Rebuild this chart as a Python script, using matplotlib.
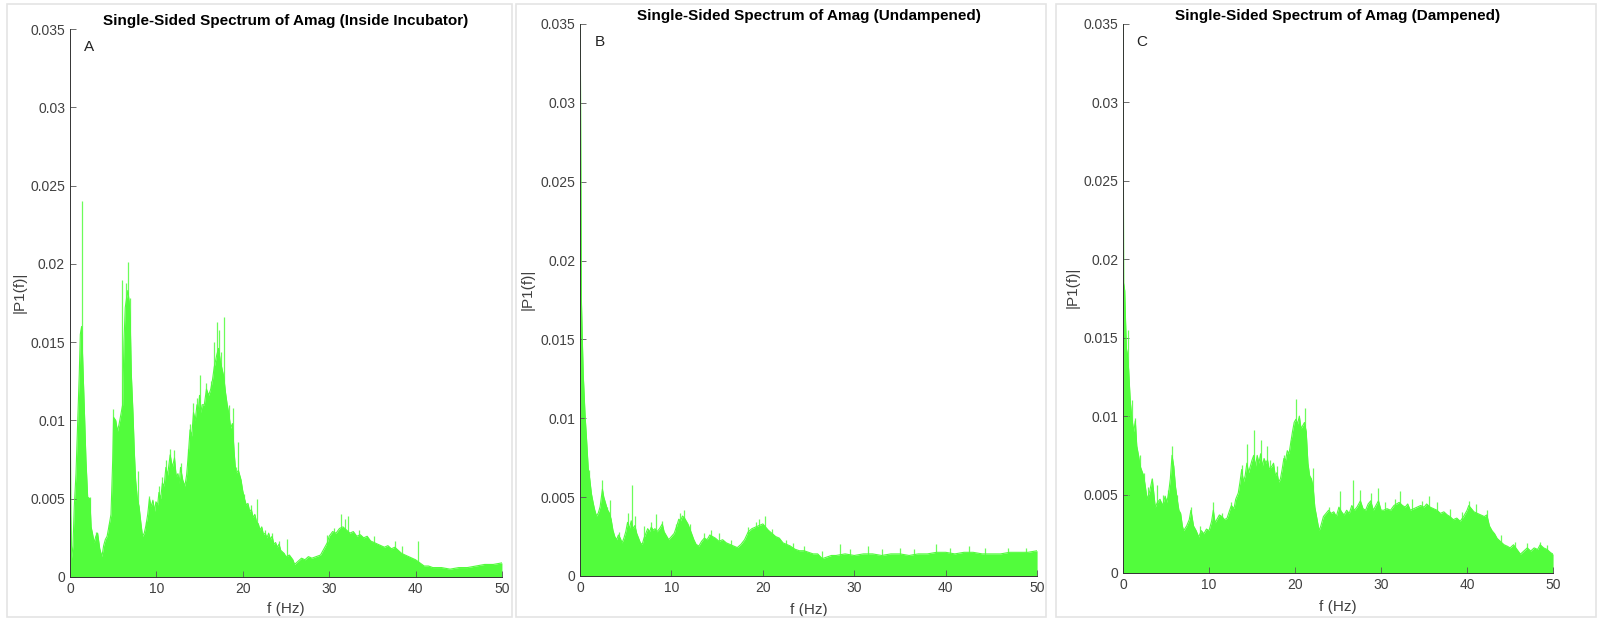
import matplotlib
matplotlib.use("Agg")
import matplotlib.pyplot as plt
from matplotlib.patches import Rectangle

plt.rcParams['font.family'] = ['Liberation Sans', 'DejaVu Sans']

# panel A - inside incubator (upper outline of the spectrum)
freq_a = [0.0, 0.1, 0.2, 0.35, 0.5, 0.7, 0.9, 1.08, 1.2, 1.35, 1.5, 1.66, 1.85, 2.05, 2.3, 2.45,
          2.6, 2.8, 3.0, 3.2, 3.45, 3.7, 3.9, 4.1, 4.3, 4.5, 4.75, 4.95, 5.05, 5.3, 5.5, 5.7, 5.9,
          6.1, 6.25, 6.4, 6.55, 6.7, 6.85, 6.97, 7.1, 7.3, 7.45, 7.6, 7.8, 8.0, 8.2, 8.4, 8.6, 8.8,
          9.0, 9.2, 9.4, 9.6, 9.8, 9.95, 10.15, 10.3, 10.5, 10.7, 10.9, 11.1, 11.3, 11.6, 11.85,
          12.1, 12.3, 12.5, 12.65, 12.8, 13.05, 13.3, 13.5, 13.7, 13.9, 14.1, 14.3, 14.5, 14.7,
          14.85, 15.0, 15.15, 15.3, 15.55, 15.8, 16.05, 16.3, 16.5, 16.7, 16.85, 17.0, 17.2, 17.4,
          17.6, 17.8, 18.0, 18.2, 18.4, 18.6, 18.8, 19.0, 19.2, 19.5, 19.8, 20.0, 20.2, 20.4, 20.6,
          20.8, 21.0, 21.2, 21.4, 21.6, 21.8, 22.0, 22.2, 22.4, 22.6, 22.8, 23.0, 23.2, 23.4, 23.6,
          23.8, 24.0, 24.2, 24.4, 24.6, 24.8, 25.0, 25.4, 25.8, 26.0, 26.4, 26.8, 27.2, 27.6, 28.0,
          28.5, 29.0, 29.4, 29.8, 30.0, 30.4, 30.8, 31.2, 31.6, 32.0, 32.4, 32.8, 33.2, 33.6, 34.0,
          34.4, 34.8, 35.2, 35.6, 36.0, 36.4, 36.8, 37.2, 37.6, 38.0, 38.4, 38.8, 39.2, 39.6, 40.0,
          40.5, 41.0, 41.5, 42.0, 43.0, 44.0, 45.0, 46.0, 47.0, 48.0, 49.0, 50.0]
amp_a = [0.0145, 0.004, 0.0012, 0.002, 0.0045, 0.0066, 0.010, 0.013, 0.0155, 0.016, 0.0135, 0.0109,
         0.0075, 0.0051, 0.005, 0.0032, 0.0028, 0.0022, 0.0026, 0.0028, 0.0018, 0.0013, 0.0020,
         0.0024, 0.0026, 0.0032, 0.0040, 0.0075, 0.0102, 0.0100, 0.0093, 0.0098, 0.0104, 0.0110,
         0.0150, 0.0172, 0.0178, 0.0183, 0.0176, 0.0165, 0.0130, 0.0104, 0.0080, 0.0062, 0.0050,
         0.0045, 0.0035, 0.0026, 0.0028, 0.0033, 0.0040, 0.0050, 0.0045, 0.0049, 0.0042, 0.0048,
         0.0046, 0.0054, 0.0050, 0.0060, 0.0058, 0.0070, 0.0065, 0.0078, 0.0070, 0.0076, 0.0064,
         0.0066, 0.0060, 0.0070, 0.0062, 0.0058, 0.0065, 0.0078, 0.0094, 0.0090, 0.0105, 0.0100,
         0.0110, 0.0106, 0.0116, 0.0105, 0.0110, 0.0110, 0.0120, 0.0116, 0.0120, 0.0126, 0.0134,
         0.0138, 0.0142, 0.0146, 0.0138, 0.0133, 0.0128, 0.0118, 0.0110, 0.0104, 0.0095, 0.0098,
         0.0080, 0.0066, 0.0068, 0.0062, 0.0055, 0.0050, 0.0046, 0.0047, 0.0042, 0.0043, 0.0038,
         0.0040, 0.0035, 0.0034, 0.0030, 0.0032, 0.0027, 0.0028, 0.0025, 0.0028, 0.0024, 0.0026,
         0.0021, 0.0022, 0.0019, 0.0021, 0.0017, 0.0016, 0.0015, 0.0013, 0.0014, 0.0011, 0.0008,
         0.0010, 0.0012, 0.0011, 0.0013, 0.0012, 0.0013, 0.0014, 0.0018, 0.0022, 0.0026, 0.0029,
         0.0028, 0.0031, 0.0032, 0.0030, 0.0028, 0.0029, 0.0026, 0.0027, 0.0025, 0.0026, 0.0023,
         0.0022, 0.0021, 0.0020, 0.0019, 0.0020, 0.0018, 0.0019, 0.0017, 0.0015, 0.0014, 0.0013,
         0.0012, 0.0011, 0.0009, 0.0007, 0.0007, 0.0006, 0.0006, 0.0005, 0.0006, 0.0006, 0.0007,
         0.0008, 0.0008, 0.0009]
spike_f_a = [1.43, 1.3, 2.3, 3.0, 4.5, 5.0, 6.05, 6.45, 6.7, 6.9, 7.9, 8.8, 9.2, 10.3, 10.7, 11.1,
             11.6, 12.0, 12.8, 13.7, 13.9, 14.3, 14.7, 15.0, 15.8, 16.3, 16.7, 17.0, 17.2, 17.5,
             17.8, 18.4, 18.85, 19.2, 19.5, 20.2, 21.0, 21.6, 22.6, 23.4, 24.2, 25.1, 29.8, 30.6,
             31.4, 31.8, 32.2, 33.5, 35.2, 37.6, 38.4, 40.3]
spike_v_a = [0.0240, 0.0158, 0.0051, 0.0029, 0.0034, 0.0107, 0.0190, 0.0188, 0.0201, 0.0178,
             0.0068, 0.0035, 0.0052, 0.0058, 0.0064, 0.0075, 0.0082, 0.0081, 0.0073, 0.0082,
             0.0098, 0.0111, 0.0114, 0.0129, 0.0124, 0.0125, 0.0150, 0.0163, 0.0158, 0.0144,
             0.0166, 0.0110, 0.0108, 0.0070, 0.0086, 0.0053, 0.0046, 0.0050, 0.0030, 0.0028,
             0.0023, 0.0024, 0.0027, 0.0031, 0.0040, 0.0037, 0.0039, 0.0030, 0.0026, 0.0023,
             0.0020, 0.0023]

# panel B - undampened
freq_b = [0.0, 0.05, 0.15, 0.25, 0.35, 0.45, 0.55, 0.7, 0.9, 1.05, 1.25, 1.45, 1.6, 1.8, 2.0, 2.2,
          2.45, 2.6, 2.8, 3.0, 3.2, 3.4, 3.6, 3.8, 4.0, 4.2, 4.4, 4.6, 4.8, 5.0, 5.2, 5.4, 5.6, 5.8,
          6.0, 6.2, 6.4, 6.6, 6.8, 7.0, 7.2, 7.4, 7.6, 7.8, 8.0, 8.2, 8.4, 8.7, 9.0, 9.2, 9.4, 9.7,
          10.0, 10.3, 10.6, 10.8, 11.0, 11.2, 11.4, 11.6, 11.8, 12.0, 12.2, 12.45, 12.7, 13.0,
          13.3, 13.6, 13.9, 14.2, 14.5, 14.8, 15.2, 15.6, 16.0, 16.4, 16.8, 17.2, 17.6, 18.0, 18.4,
          18.8, 19.2, 19.6, 20.0, 20.3, 20.6, 21.0, 21.4, 21.8, 22.2, 22.6, 23.0, 23.5, 24.0, 24.5,
          25.0, 25.5, 26.0, 26.5, 27.0, 27.5, 28.0, 29.0, 30.0, 31.0, 32.0, 33.0, 34.0, 35.0,
          36.0, 37.0, 38.0, 39.0, 40.0, 41.0, 42.0, 43.0, 44.0, 45.0, 46.0, 47.0, 48.0, 49.0, 50.0]
amp_b = [0.0350, 0.0317, 0.0175, 0.0150, 0.0128, 0.0115, 0.0102, 0.0088, 0.0068, 0.0062, 0.0052,
         0.0046, 0.0042, 0.0038, 0.0040, 0.0044, 0.0055, 0.0050, 0.0046, 0.0042, 0.0040, 0.0036,
         0.0029, 0.0025, 0.0023, 0.0026, 0.0024, 0.0021, 0.0024, 0.0028, 0.0034, 0.0030, 0.0035,
         0.0030, 0.0032, 0.0027, 0.0024, 0.0021, 0.0020, 0.0024, 0.0027, 0.0030, 0.0028, 0.0031,
         0.0029, 0.0030, 0.0028, 0.0030, 0.0033, 0.0028, 0.0026, 0.0023, 0.0025, 0.0027, 0.0032,
         0.0036, 0.0035, 0.0038, 0.0037, 0.0035, 0.0033, 0.0030, 0.0027, 0.0023, 0.0020, 0.0019,
         0.0022, 0.0024, 0.0023, 0.0026, 0.0025, 0.0024, 0.0022, 0.0023, 0.0021, 0.0020, 0.0019,
         0.0018, 0.0020, 0.0023, 0.0028, 0.0030, 0.0031, 0.0032, 0.0033, 0.0031, 0.0029, 0.0027,
         0.0025, 0.0024, 0.0021, 0.0020, 0.0019, 0.0017, 0.0016, 0.0016, 0.0015, 0.0014, 0.0014,
         0.0011, 0.0012, 0.0013, 0.0013, 0.0014, 0.0013, 0.0014, 0.0014, 0.0013, 0.0014, 0.0014,
         0.0013, 0.0014, 0.0014, 0.0015, 0.0015, 0.0014, 0.0015, 0.0015, 0.0014, 0.0014, 0.0014,
         0.0015, 0.0015, 0.0015, 0.0016]
spike_f_b = [1.0, 2.45, 3.0, 3.3, 4.3, 5.2, 5.64, 6.0, 7.0, 7.8, 8.3, 9.0, 10.5, 10.9, 11.4, 12.0,
             13.6, 14.3, 15.2, 16.5, 18.4, 19.2, 19.6, 20.2, 21.0, 22.5, 23.3, 24.5, 26.5, 28.4,
             29.5, 31.5, 33.0, 35.0, 36.5, 38.9, 40.5, 42.6, 44.3, 46.8, 48.8]
spike_v_b = [0.0067, 0.0061, 0.0044, 0.0048, 0.0028, 0.0040, 0.0058, 0.0038, 0.0032, 0.0034,
             0.0039, 0.0035, 0.0033, 0.0040, 0.0042, 0.0033, 0.0027, 0.0029, 0.0027, 0.0023,
             0.0031, 0.0034, 0.0036, 0.0038, 0.0030, 0.0023, 0.0021, 0.0019, 0.0016, 0.0020,
             0.0017, 0.0019, 0.0017, 0.0018, 0.0017, 0.0020, 0.0018, 0.0019, 0.0018, 0.0018,
             0.0018]

# panel C - dampened
freq_c = [0.0, 0.08, 0.2, 0.3, 0.4, 0.5, 0.65, 0.85, 1.05, 1.25, 1.43, 1.6, 1.8, 2.0, 2.2, 2.4,
          2.6, 2.8, 3.1, 3.4, 3.6, 3.75, 4.0, 4.3, 4.6, 4.9, 5.1, 5.3, 5.5, 5.7, 5.9, 6.1, 6.3,
          6.5, 6.7, 6.9, 7.05, 7.4, 7.7, 7.9, 8.2, 8.5, 8.8, 9.1, 9.4, 9.7, 10.0, 10.3, 10.5, 10.7,
          10.9, 11.2, 11.5, 11.8, 12.1, 12.4, 12.6, 12.9, 13.1, 13.4, 13.6, 13.8, 14.0, 14.2, 14.4,
          14.6, 14.8, 15.0, 15.2, 15.4, 15.6, 15.8, 16.0, 16.2, 16.4, 16.6, 16.8, 17.0, 17.3, 17.5,
          17.7, 17.9, 18.1, 18.3, 18.5, 18.7, 18.9, 19.1, 19.3, 19.5, 19.7, 19.9, 20.1, 20.3, 20.5,
          20.7, 20.9, 21.1, 21.3, 21.5, 21.7, 21.9, 22.1, 22.3, 22.5, 22.8, 23.0, 23.3, 23.6, 23.9,
          24.2, 24.5, 24.8, 25.1, 25.4, 25.7, 26.0, 26.3, 26.6, 26.9, 27.2, 27.6, 27.9, 28.2, 28.5,
          28.8, 29.1, 29.4, 29.7, 30.0, 30.3, 30.7, 31.1, 31.5, 31.8, 32.1, 32.5, 32.8, 33.1, 33.4,
          33.8, 34.2, 34.6, 35.0, 35.3, 35.7, 36.1, 36.5, 36.9, 37.3, 37.7, 38.0, 38.4, 38.8, 39.2,
          39.6, 40.0, 40.2, 40.5, 40.8, 41.2, 41.6, 42.0, 42.3, 42.6, 42.9, 43.2, 43.5, 43.9, 44.3,
          44.7, 45.0, 45.4, 45.8, 46.2, 46.6, 47.0, 47.4, 47.8, 48.2, 48.5, 48.9, 49.3, 49.7, 50.0]
amp_c = [0.0350, 0.0185, 0.0180, 0.0160, 0.0143, 0.0140, 0.0130, 0.0109, 0.0098, 0.0090, 0.0097,
         0.0081, 0.0075, 0.0068, 0.0065, 0.0062, 0.0055, 0.0047, 0.0052, 0.0060, 0.0050, 0.0042,
         0.0045, 0.0047, 0.0043, 0.0049, 0.0045, 0.0051, 0.0060, 0.0075, 0.0068, 0.0055, 0.0047,
         0.0040, 0.0038, 0.0030, 0.0027, 0.0030, 0.0034, 0.0040, 0.0030, 0.0027, 0.0023, 0.0027,
         0.0025, 0.0028, 0.0027, 0.0033, 0.0040, 0.0032, 0.0034, 0.0037, 0.0036, 0.0034, 0.0035,
         0.0040, 0.0043, 0.0041, 0.0047, 0.0051, 0.0058, 0.0066, 0.0058, 0.0062, 0.0070, 0.0064,
         0.0068, 0.0072, 0.0075, 0.0068, 0.0075, 0.0070, 0.0076, 0.0068, 0.0073, 0.0070, 0.0072,
         0.0066, 0.0068, 0.0070, 0.0062, 0.0064, 0.0058, 0.0060, 0.0066, 0.0073, 0.0072, 0.0078,
         0.0076, 0.0083, 0.0090, 0.0096, 0.0098, 0.0095, 0.0100, 0.0092, 0.0094, 0.0096, 0.0090,
         0.0070, 0.0062, 0.0060, 0.0055, 0.0042, 0.0036, 0.0027, 0.0030, 0.0036, 0.0038, 0.0040,
         0.0038, 0.0039, 0.0036, 0.0042, 0.0039, 0.0037, 0.0040, 0.0038, 0.0043, 0.0040, 0.0042,
         0.0046, 0.0041, 0.0040, 0.0044, 0.0046, 0.0040, 0.0043, 0.0046, 0.0040, 0.0040, 0.0041,
         0.0040, 0.0043, 0.0044, 0.0045, 0.0043, 0.0042, 0.0044, 0.0040, 0.0041, 0.0042, 0.0043,
         0.0042, 0.0044, 0.0042, 0.0041, 0.0040, 0.0038, 0.0039, 0.0037, 0.0036, 0.0034, 0.0035,
         0.0033, 0.0036, 0.0040, 0.0043, 0.0041, 0.0039, 0.0038, 0.0037, 0.0036, 0.0037, 0.0030,
         0.0027, 0.0025, 0.0022, 0.0020, 0.0018, 0.0017, 0.0016, 0.0018, 0.0015, 0.0012, 0.0014,
         0.0016, 0.0014, 0.0016, 0.0015, 0.0018, 0.0016, 0.0015, 0.0013, 0.0012]
spike_f_c = [0.6, 1.1, 1.4, 2.0, 2.4, 2.9, 3.4, 4.0, 4.6, 5.2, 5.75, 6.3, 7.9, 9.0, 10.5, 11.5,
             12.6, 13.8, 14.4, 15.2, 16.0, 16.7, 17.1, 17.9, 18.7, 19.5, 20.1, 21.1, 22.1, 24.0,
             25.2, 26.7, 27.6, 28.8, 29.7, 30.5, 31.6, 32.2, 33.6, 34.8, 35.6, 36.5, 38.0, 39.4,
             40.2, 41.0, 42.3, 44.0, 45.6, 47.0, 48.5, 49.3]
spike_v_c = [0.0155, 0.0110, 0.0099, 0.0075, 0.0064, 0.0055, 0.0060, 0.0056, 0.0050, 0.0053,
             0.0081, 0.0050, 0.0042, 0.0030, 0.0045, 0.0038, 0.0045, 0.0069, 0.0082, 0.0091,
             0.0085, 0.0081, 0.0072, 0.0068, 0.0075, 0.0085, 0.0111, 0.0105, 0.0067, 0.0042,
             0.0052, 0.0059, 0.0053, 0.0051, 0.0054, 0.0045, 0.0047, 0.0052, 0.0047, 0.0046,
             0.0049, 0.0045, 0.0041, 0.0039, 0.0046, 0.0044, 0.0040, 0.0024, 0.0020, 0.0019,
             0.0020, 0.0018]

titles = ['Single-Sided Spectrum of Amag (Inside Incubator)',
          'Single-Sided Spectrum of Amag (Undampened)',
          'Single-Sided Spectrum of Amag (Dampened)']
letters = ['A', 'B', 'C']
yticks = [0, 0.005, 0.01, 0.015, 0.02, 0.025, 0.03, 0.035]
ytick_labels = ['0', '0.005', '0.01', '0.015', '0.02', '0.025', '0.03', '0.035']
xticks = [0, 10, 20, 30, 40, 50]

green = '#52fc3c'
fig = plt.figure(figsize=(15.97, 6.21), dpi=100)

# light frames of the three screenshots
for x0, w in [(0.0044, 0.3163), (0.3230, 0.3320), (0.6610, 0.3385)]:
    fig.patches.append(Rectangle((x0, 0.006), w, 0.988, transform=fig.transFigure,
                                 fill=False, edgecolor='#e4e4e4', linewidth=1.2))

positions = [[0.0438, 0.0709, 0.2705, 0.8824],
             [0.3632, 0.0725, 0.2862, 0.8889],
             [0.7032, 0.0773, 0.2693, 0.8841]]
series = [(freq_a, amp_a, spike_f_a, spike_v_a),
          (freq_b, amp_b, spike_f_b, spike_v_b),
          (freq_c, amp_c, spike_f_c, spike_v_c)]
xlab_y = [-0.046, -0.049, -0.049]

for i in range(3):
    ax = fig.add_axes(positions[i])
    f, v, sf, sv = series[i]
    ax.fill_between(f, 0, v, color=green, linewidth=0)
    ax.plot(f, v, color=green, linewidth=0.8)
    ax.vlines(sf, 0, sv, color=green, linewidth=0.9, alpha=0.85)
    ax.set_xlim(0, 50)
    ax.set_ylim(0, 0.035)
    ax.set_xticks(xticks)
    ax.set_yticks(yticks)
    ax.set_yticklabels(ytick_labels)
    ax.tick_params(direction='in', length=4, width=0.6, colors='#555555',
                   labelcolor='#404040', labelsize=10)
    for s in ['top', 'right']:
        ax.spines[s].set_visible(False)
    for s in ['left', 'bottom']:
        ax.spines[s].set_color('#333333')
        ax.spines[s].set_linewidth(0.7)
    ax.set_title(titles[i], fontsize=11, fontweight='bold', pad=3)
    ax.set_xlabel('f (Hz)', fontsize=11, color='#404040')
    ax.set_ylabel('|P1(f)|', fontsize=11, color='#404040')
    ax.xaxis.set_label_coords(0.5, xlab_y[i])
    ax.yaxis.set_label_coords(-0.1, 0.52)
    ax.text(0.044, 0.968, letters[i], transform=ax.transAxes, fontsize=11,
            ha='center', va='center', color='#222222')

fig.savefig('out.png', dpi=100)
